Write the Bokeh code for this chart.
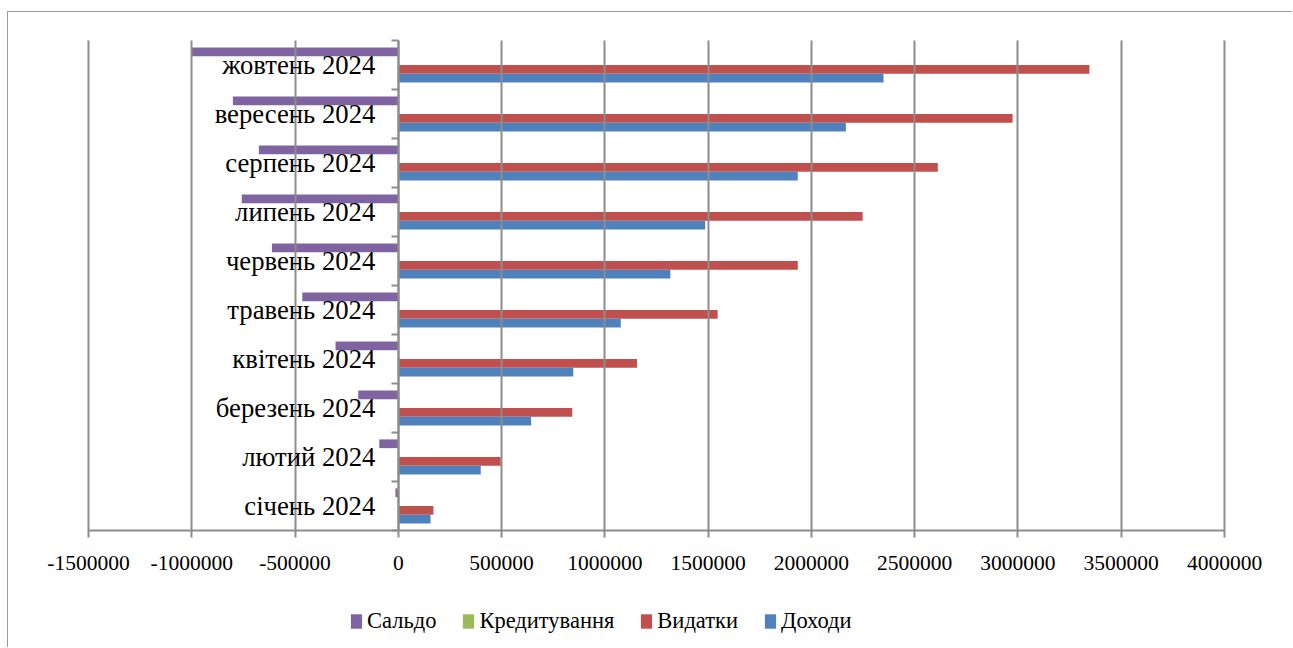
from bokeh.plotting import figure
from bokeh.models import (Range1d, LinearAxis, FixedTicker, NumeralTickFormatter, Legend,
                          LegendItem, ColumnDataSource, CustomJSTickFormatter)
from bokeh.transform import dodge
from bokeh.embed import file_html
from bokeh.resources import INLINE

# ---- data ----
months = ["січень 2024", "лютий 2024", "березень 2024", "квітень 2024", "травень 2024",
          "червень 2024", "липень 2024", "серпень 2024", "вересень 2024", "жовтень 2024"]
dohody = [156000, 399000, 643000, 847000, 1077000, 1317000, 1486000, 1934000, 2167000, 2349000]
vydatky = [170000, 496000, 842000, 1156000, 1546000, 1934000, 2248000, 2612000, 2974000, 3346000]
kredytuvannia = [0, 0, 0, 0, 0, 0, 0, 0, 0, 0]
saldo = [-14000, -92000, -194000, -304000, -465000, -612000, -758000, -675000, -801000, -1000000]
x_ticks = [-1500000, -1000000, -500000, 0, 500000, 1000000, 1500000,
           2000000, 2500000, 3000000, 3500000, 4000000]
series_fields = ["saldo", "kredyt", "vydatky", "dohody"]
series_names = ["Сальдо", "Кредитування", "Видатки", "Доходи"]
series_colors = ["#8064A2", "#9BBB59", "#C0504D", "#4F81BD"]

FONT = "Liberation Serif"
GRAY = "#8c8c8c"

n = len(months)
idx = list(range(n))
src = ColumnDataSource(dict(idx=idx, month=months, saldo=saldo, kredyt=kredytuvannia,
                            vydatky=vydatky, dohody=dohody))

# ---- layout (pixels) ----
W, H = 1285, 636
PLOT_L, PLOT_W = 80, 1136          # value-axis span inside the canvas
PLOT_T, BAND_PX = 28, 49.0         # top of bands, height of one band
PLOT_H = BAND_PX * n
span = x_ticks[-1] - x_ticks[0]
u_per_px = span / PLOT_W
x_start = x_ticks[0] - PLOT_L * u_per_px
x_end = x_ticks[-1] + (W - PLOT_L - PLOT_W) * u_per_px
y_bottom_extra = (H - PLOT_T - PLOT_H) / BAND_PX
y_top_extra = PLOT_T / BAND_PX

p = figure(width=W, height=H,
           x_range=Range1d(x_start, x_end),
           y_range=Range1d(-y_bottom_extra, n + y_top_extra),
           output_backend="svg", toolbar_location=None,
           x_axis_location=None, y_axis_location=None,
           min_border=0)
p.styles = {"margin-left": "7px", "margin-top": "11px",
            "border-left": "1px solid #9a9a9a", "border-top": "1px solid #9a9a9a"}
p.outline_line_color = None
p.background_fill_color = "white"
p.border_fill_color = "white"
p.xgrid.visible = False
p.ygrid.visible = False

bar_h = 0.178
offsets = [0.27, 0.09, -0.09, -0.27]
renderers = []
for field, off, color in zip(series_fields, offsets, series_colors):
    r = p.hbar(y=dodge("idx", 0.5 + off), left=0, right=field,
               height=bar_h, source=src, fill_color=color, line_color=None)
    renderers.append(r)

# value axis at the bottom of the bands; inner ticks serve as vertical gridlines
x_axis = LinearAxis(fixed_location=0, bounds=(x_ticks[0], x_ticks[-1]),
                    ticker=FixedTicker(ticks=x_ticks),
                    formatter=NumeralTickFormatter(format="0"),
                    axis_line_color=GRAY, axis_line_width=2,
                    major_tick_line_color=GRAY, major_tick_line_width=2,
                    major_tick_out=7, major_tick_in=int(PLOT_H), minor_tick_line_color=None,
                    major_label_text_font=FONT, major_label_text_font_size="21.5px",
                    major_label_text_color="black", major_label_standoff=18)
p.add_layout(x_axis, "below")

# category axis crossing at x = 0: boundary ticks
tick_axis = LinearAxis(fixed_location=0, bounds=(0, n),
                       ticker=FixedTicker(ticks=list(range(n + 1))),
                       formatter=CustomJSTickFormatter(code="return ''"),
                       major_tick_out=7, major_tick_in=0, minor_tick_line_color=None,
                       axis_line_color=GRAY, axis_line_width=2,
                       major_tick_line_color=GRAY, major_tick_line_width=2)
p.add_layout(tick_axis, "left")

# category labels at band centres
centres = [i + 0.5 for i in idx]
cat_axis = LinearAxis(fixed_location=0, ticker=FixedTicker(ticks=centres),
                      major_label_overrides={c: m for c, m in zip(centres, months)},
                      major_tick_line_color=None, major_tick_out=0, major_tick_in=0,
                      minor_tick_line_color=None, axis_line_color=None,
                      major_label_standoff=23, major_label_text_font=FONT,
                      major_label_text_font_size="26.7px", major_label_text_color="black")
p.add_layout(cat_axis, "left")

legend = Legend(items=[LegendItem(label=nm, renderers=[r]) for nm, r in zip(series_names, renderers)],
                location=(341, 14), orientation="horizontal",
                glyph_width=14, glyph_height=18, label_standoff=4, spacing=25,
                padding=0, margin=0, border_line_alpha=0, background_fill_alpha=0,
                label_text_font=FONT, label_text_font_size="22.5px", label_text_color="black")
p.add_layout(legend, "center")

open("out.html", "w").write(file_html(p, INLINE))
